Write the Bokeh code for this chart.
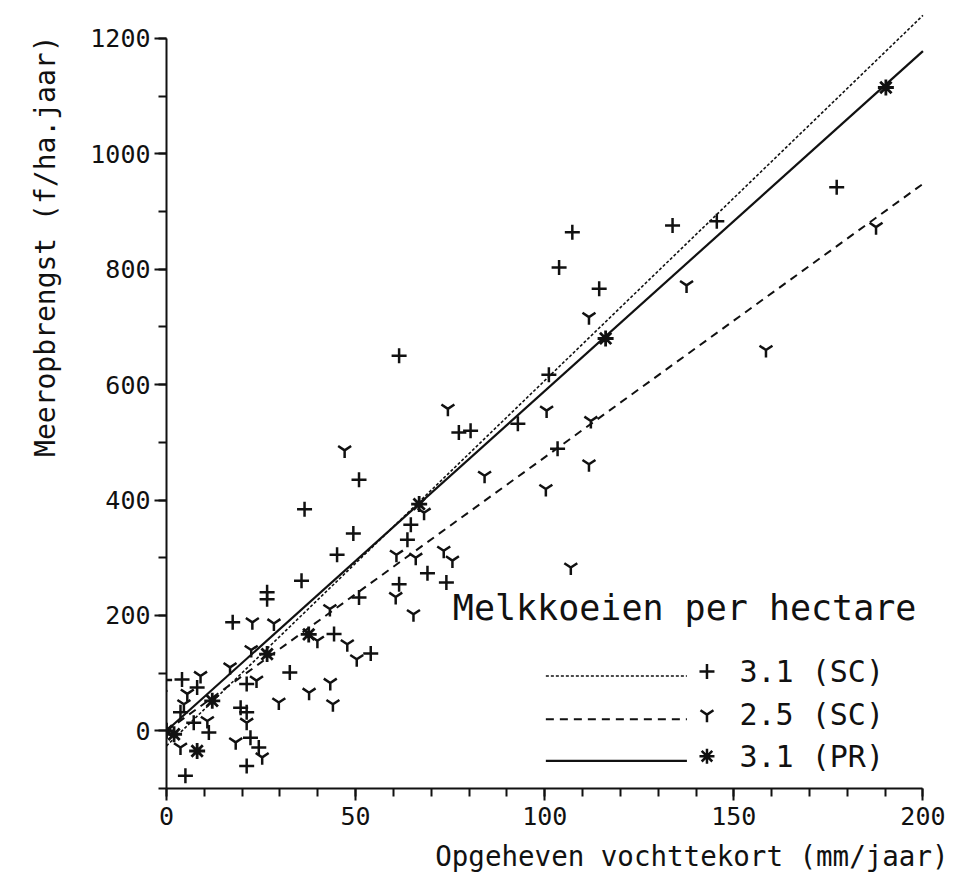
from bokeh.plotting import figure
from bokeh.models import Range1d, FixedTicker, Title
from bokeh.embed import file_html
from bokeh.resources import INLINE
from bokeh.core.properties import value

# ---- data ----
# 3.1 melkkoeien/ha (SC)  -> "+"
sc31_x = [-0.5, 4.1, 8.1, 3.7, 7.2, 11.2, 5.0, 17.5, 21.2, 19.6, 21.2, 22.2, 24.4, 21.2,
          26.6, 26.6, 32.6, 35.7, 36.5, 44.3, 45.1, 49.4, 50.9, 50.9, 54.0, 61.5, 61.5,
          63.7, 64.6, 69.0, 74.0, 77.3, 80.4, 92.9, 101.1, 103.4, 103.8, 107.3, 114.4,
          133.8, 145.5, 177.2]
sc31_y = [88, 89, 75, 32, 14, -3, -78, 188, 81, 40, 32, -12, -29, -61,
          240, 228, 101, 260, 384, 168, 305, 342, 231, 435, 134, 650, 254,
          331, 357, 273, 257, 517, 520, 532, 617, 489, 803, 864, 766,
          876, 883, 942]

# 2.5 melkkoeien/ha (SC)  -> "Y"
sc25_x = [-1.5, 9.0, 5.5, 4.6, 10.8, 3.7, 16.8, 22.7, 28.4, 22.4, 23.8, 21.2, 18.3, 25.3,
          29.7, 37.7, 43.3, 44.0, 43.2, 39.9, 47.8, 50.3, 47.1, 60.8, 65.9, 60.6, 65.3,
          73.3, 75.6, 68.1, 74.4, 84.1, 100.5, 100.3, 111.7, 112.2, 111.7, 106.9, 137.5,
          158.5, 187.6]
sc25_y = [63, 95, 64, 46, 17, -29, 110, 188, 186, 140, 87, 14, -20, -46,
          49, 66, 83, 46, 211, 156, 150, 124, 486, 305, 300, 232, 202,
          312, 295, 378, 558, 442, 555, 419, 462, 537, 717, 283, 772,
          660, 873]

# 3.1 melkkoeien/ha (PR)  -> asterisk
pr31_x = [0.0, 2.0, 8.1, 12.1, 26.6, 37.6, 66.8, 116.1, 190.2]
pr31_y = [0, -6, -35, 52, 133, 167, 393, 680, 1115]

# fitted lines (end points)
fit_sc31_x = [0, 200]
fit_sc31_y = [-26, 1240]
fit_sc25_x = [0, 200]
fit_sc25_y = [0, 948]
fit_pr31_x = [0, 200]
fit_pr31_y = [0, 1178]

x_major = [0, 50, 100, 150, 200]
x_minor = [0, 10, 20, 30, 40, 50, 60, 70, 80, 90, 100, 110, 120, 130, 140, 150,
           160, 170, 180, 190, 200]
y_major = [0, 200, 400, 600, 800, 1000, 1200]
y_minor = [-100, 0, 100, 200, 300, 400, 500, 600, 700, 800, 900, 1000, 1100, 1200]

x_title = "Opgeheven vochttekort (mm/jaar)"
y_title = "Meeropbrengst (f/ha.jaar)"
legend_title = "Melkkoeien per hectare"
legend_labels = ["3.1 (SC)", "2.5 (SC)", "3.1 (PR)"]

# ---- layout / style constants ----
FONT = "DejaVu Sans Mono"
INK = "#111111"

p = figure(frame_width=764, frame_height=776,
           x_range=Range1d(0, 202), y_range=Range1d(-100, 1245),
           output_backend="svg", toolbar_location=None,
           min_border_left=166, min_border_right=26,
           min_border_top=12, min_border_bottom=91)
p.outline_line_color = None
p.xgrid.visible = False
p.ygrid.visible = False
p.background_fill_color = "white"
p.border_fill_color = "white"

for ax, ticks, minor, bounds in (
        (p.xaxis[0], x_major, x_minor, (0, 200)),
        (p.yaxis[0], y_major, y_minor, (-100, 1200))):
    ax.ticker = FixedTicker(ticks=ticks, minor_ticks=minor)
    ax.bounds = bounds
    ax.axis_line_width = 2
    ax.axis_line_color = INK
    ax.major_tick_line_width = 2
    ax.minor_tick_line_width = 2
    ax.major_tick_line_color = INK
    ax.minor_tick_line_color = INK
    ax.major_tick_in = 0
    ax.minor_tick_in = 0
    ax.major_tick_out = 12
    ax.minor_tick_out = 8
    ax.major_label_text_font = FONT
    ax.major_label_text_font_size = "25px"
    ax.major_label_text_color = INK

p.xaxis[0].major_label_standoff = 6
p.yaxis[0].major_label_standoff = 4

# axis titles, aligned to the far ends of the axes as in the original
p.add_layout(Title(text=x_title, align="right", offset=-18, standoff=21,
                   text_font=FONT, text_font_size="27.5px", text_font_style="normal",
                   text_color=INK), "below")
p.add_layout(Title(text=y_title, align="right", offset=23, standoff=48,
                   vertical_align="top",
                   text_font=FONT, text_font_size="28px", text_font_style="normal",
                   text_color=INK), "left")

# fitted lines
p.line(fit_sc31_x, fit_sc31_y, line_color=INK, line_width=1.6, line_dash="3 2")
p.line(fit_sc25_x, fit_sc25_y, line_color=INK, line_width=2, line_dash="8 6")
p.line(fit_pr31_x, fit_pr31_y, line_color=INK, line_width=2.2)

# points
p.scatter(sc31_x, sc31_y, marker="cross", size=15, line_color=INK, line_width=2.5)
p.scatter(sc25_x, sc25_y, marker="y", size=15, line_color=INK, line_width=2.5)
p.scatter(pr31_x, pr31_y, marker="asterisk", size=16, line_color=INK, line_width=2.8)

# legend (drawn by hand to match the original layout)
LEG_TITLE_X, LEG_TITLE_Y = 75.7, 213
LEG_LINE_X0, LEG_LINE_X1 = 100.3, 137.6
LEG_MARK_X = 142.9
LEG_TEXT_X = 151.5
LEG_ROW_Y = [100, 25, -47]
styles = [dict(line_width=1.6, line_dash="3 2"),
          dict(line_width=2, line_dash="8 6"),
          dict(line_width=2.2)]
markers = ["cross", "y", "asterisk"]

p.text(x=[LEG_TITLE_X], y=[LEG_TITLE_Y], text=[legend_title],
       text_font=value(FONT), text_font_size="35px", text_color=INK,
       text_baseline="middle", text_align="left")
for i in range(3):
    ry = LEG_ROW_Y[i]
    p.line([LEG_LINE_X0, LEG_LINE_X1], [ry - 5, ry - 5], line_color=INK, **styles[i])
    p.scatter([LEG_MARK_X], [ry + 3], marker=markers[i], size=15,
              line_color=INK, line_width=2.5)
    p.text(x=[LEG_TEXT_X], y=[ry + 3], text=[legend_labels[i]],
           text_font=value(FONT), text_font_size="30px", text_color=INK,
           text_baseline="middle", text_align="left")

open("out.html", "w").write(file_html(p, INLINE))
